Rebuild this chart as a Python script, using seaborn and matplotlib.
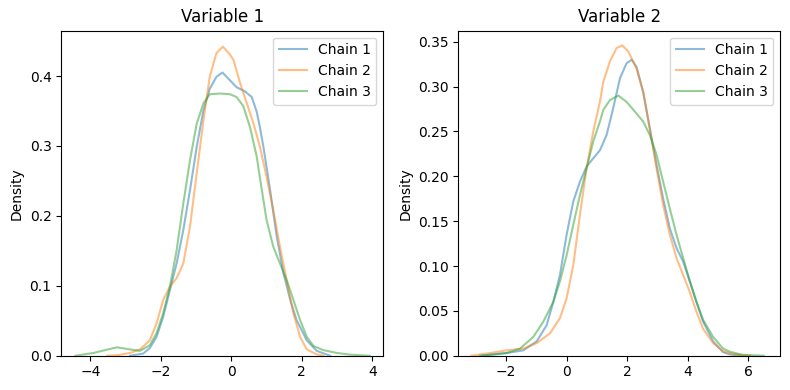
import matplotlib
matplotlib.use("Agg")
import matplotlib.pyplot as plt
import seaborn as sns
import pandas as pd

# Variable 1 density curves
v1_c1_x = [-2.87, -2.5, -2.31, -2.12, -1.93, -1.74, -1.55, -1.36, -1.17, -0.98, -0.79, -0.61, -0.42, -0.25, -0.04,
           0.15, 0.39, 0.58, 0.72, 0.81, 0.91, 1.1, 1.29, 1.48, 1.67, 1.85, 2.14, 2.42, 2.8]
v1_c1_y = [0.0, 0.003, 0.011, 0.027, 0.056, 0.094, 0.132, 0.18, 0.237, 0.299, 0.351, 0.382, 0.399, 0.405, 0.394,
           0.384, 0.378, 0.37, 0.349, 0.327, 0.299, 0.237, 0.17, 0.118, 0.08, 0.051, 0.022, 0.007, 0.0]
v1_c2_x = [-3.52, -3.2, -2.87, -2.59, -2.31, -2.12, -1.93, -1.74, -1.55, -1.36, -1.17, -0.98, -0.79, -0.61, -0.42,
           -0.24, -0.04, 0.06, 0.25, 0.44, 0.63, 0.81, 1.0, 1.19, 1.38, 1.57, 1.76, 1.95, 2.14, 2.42, 2.61]
v1_c2_y = [0.0, 0.001, 0.004, 0.009, 0.022, 0.046, 0.08, 0.099, 0.111, 0.132, 0.185, 0.261, 0.337, 0.399, 0.433,
           0.442, 0.431, 0.423, 0.39, 0.361, 0.332, 0.299, 0.256, 0.208, 0.156, 0.108, 0.061, 0.027, 0.009, 0.002, 0.0]
v1_c3_x = [-4.42, -3.9, -3.5, -3.24, -2.87, -2.59, -2.31, -2.12, -1.93, -1.74, -1.55, -1.36, -1.17, -0.98, -0.79,
           -0.61, -0.32, -0.04, 0.15, 0.34, 0.53, 0.72, 0.81, 1.0, 1.19, 1.38, 1.57, 1.76, 1.95, 2.14, 2.33, 2.61,
           2.99, 3.37, 3.92]
v1_c3_y = [0.0, 0.004, 0.009, 0.012, 0.009, 0.007, 0.015, 0.032, 0.061, 0.099, 0.151, 0.218, 0.28, 0.332, 0.361,
           0.374, 0.375, 0.374, 0.37, 0.357, 0.327, 0.285, 0.255, 0.194, 0.156, 0.132, 0.108, 0.08, 0.051, 0.027,
           0.014, 0.008, 0.004, 0.0015, 0.0]

# Variable 2 density curves
v2_c1_x = [-2.8, -1.98, -1.43, -0.99, -0.66, -0.44, -0.22, 0.0, 0.22, 0.44, 0.66, 0.88, 1.1, 1.32, 1.54, 1.76,
           1.98, 2.15, 2.31, 2.53, 2.75, 2.97, 3.19, 3.41, 3.63, 3.85, 4.07, 4.29, 4.51, 4.84, 5.17, 5.39, 5.74]
v2_c1_y = [0.0, 0.003, 0.006, 0.016, 0.034, 0.06, 0.09, 0.135, 0.172, 0.194, 0.211, 0.22, 0.229, 0.246, 0.276,
           0.309, 0.326, 0.33, 0.322, 0.294, 0.253, 0.213, 0.175, 0.142, 0.12, 0.105, 0.083, 0.06, 0.038, 0.016,
           0.004, 0.0015, 0.0]
v2_c2_x = [-3.15, -2.53, -1.98, -1.43, -0.99, -0.55, -0.22, 0.0, 0.22, 0.44, 0.66, 0.88, 1.1, 1.21, 1.43, 1.65,
           1.84, 2.04, 2.31, 2.53, 2.75, 2.97, 3.19, 3.41, 3.63, 3.85, 4.07, 4.29, 4.51, 4.84, 5.17, 5.5, 6.07]
v2_c2_y = [0.0, 0.003, 0.006, 0.008, 0.014, 0.025, 0.042, 0.064, 0.101, 0.157, 0.209, 0.25, 0.283, 0.305, 0.328,
           0.343, 0.346, 0.339, 0.32, 0.294, 0.253, 0.209, 0.168, 0.135, 0.109, 0.09, 0.071, 0.049, 0.03, 0.014,
           0.005, 0.002, 0.0]
v2_c3_x = [-2.87, -1.98, -1.54, -1.1, -0.77, -0.44, -0.22, 0.0, 0.22, 0.44, 0.66, 0.88, 1.1, 1.21, 1.43, 1.71,
           1.98, 2.31, 2.53, 2.75, 2.97, 3.19, 3.41, 3.63, 3.85, 4.07, 4.29, 4.51, 4.84, 5.17, 5.39, 5.8, 6.51]
v2_c3_y = [0.0, 0.003, 0.008, 0.021, 0.038, 0.06, 0.083, 0.112, 0.146, 0.179, 0.209, 0.239, 0.261, 0.274, 0.285,
           0.29, 0.283, 0.27, 0.261, 0.246, 0.224, 0.194, 0.164, 0.135, 0.109, 0.083, 0.06, 0.04, 0.021, 0.008,
           0.0045, 0.001, 0.0]

chains = ["Chain 1", "Chain 2", "Chain 3"]
titles = ["Variable 1", "Variable 2"]

panels = [
    [(v1_c1_x, v1_c1_y), (v1_c2_x, v1_c2_y), (v1_c3_x, v1_c3_y)],
    [(v2_c1_x, v2_c1_y), (v2_c2_x, v2_c2_y), (v2_c3_x, v2_c3_y)],
]
xlims = [(-4.82, 4.31), (-3.58, 7.06)]
ylims = [(0, 0.4648), (0, 0.3623)]
positions = [[0.0776, 0.0879, 0.4076, 0.8333], [0.5801, 0.0879, 0.4076, 0.8333]]
colors = sns.color_palette("tab10", 3)

fig, axes = plt.subplots(1, 2, figsize=(7.9, 3.9), dpi=100)
for ax, curves, title, xl, yl, pos in zip(axes, panels, titles, xlims, ylims, positions):
    for (xs, ys), name, col in zip(curves, chains, colors):
        df = pd.DataFrame({"x": xs, "y": ys})
        sns.lineplot(data=df, x="x", y="y", ax=ax, color=col, alpha=0.5,
                     linewidth=1.5, label=name, sort=False)
    ax.set_title(title)
    ax.set_xlabel("")
    ax.set_ylabel("Density")
    ax.set_xlim(*xl)
    ax.set_ylim(*yl)
    ax.legend(loc="upper right")
    ax.set_position(pos)

fig.savefig("out.png", dpi=100)
